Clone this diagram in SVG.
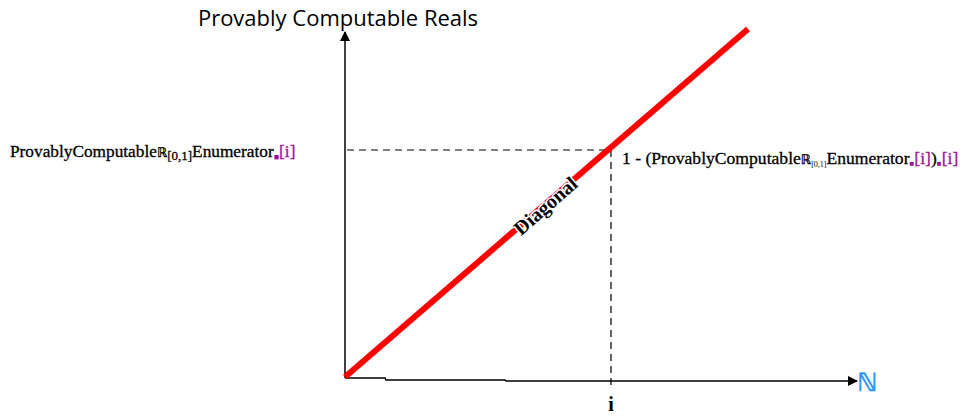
<svg xmlns="http://www.w3.org/2000/svg" width="963" height="417" viewBox="0 0 963 417">
<style>
.axis{stroke:#000;stroke-width:1.5;fill:none}
.dash{stroke:#000;stroke-width:1.2;stroke-dasharray:7,5;fill:none}
.serif{font-family:"Liberation Serif","DejaVu Serif",serif;fill:#000}
.mag{fill:#a0109c}
.halo{stroke:#fff;stroke-width:3;paint-order:stroke;stroke-linejoin:round}
</style>
<defs>
<marker id="ah" markerWidth="10" markerHeight="10" refX="9" refY="5" orient="auto" markerUnits="userSpaceOnUse">
<path d="M0,0 L10,5 L0,10 z" fill="#000"/>
</marker>
</defs>
<rect width="963" height="417" fill="#fff"/>
<g id="connectors">
<path class="axis" d="M345,378 V32" marker-end="url(#ah)"/>
<path class="axis" d="M345,378 H385 L386,380 H505 L506,381 H857" marker-end="url(#ah)"/>
<path class="dash" d="M347,150 H610"/>
<path class="dash" d="M611,150 V386"/>
<line id="diagonal" x1="345" y1="377" x2="748" y2="29" stroke="#ff0000" stroke-width="6"/>
</g>
<g id="title"><text x="338" y="26" text-anchor="middle" font-family="'Open Sans','Liberation Sans',sans-serif" font-size="22" fill="#000">Provably Computable Reals</text></g>
<g id="diagonal-label"><text transform="translate(550,211) rotate(-41)" text-anchor="middle" class="serif halo" font-size="20" font-weight="bold">Diagonal</text></g>
<g id="left-label"><text x="10" y="157" class="serif" font-size="17.3" stroke="#000" stroke-width="0.3">ProvablyComputable<tspan font-family="'DejaVu Sans',sans-serif" font-size="13">ℝ</tspan><tspan font-size="13" dy="3">[0,1]</tspan><tspan dy="-3">Enumerator</tspan><tspan class="mag" stroke="none" font-size="9" dy="3">■</tspan><tspan class="mag" stroke="#a0109c" dy="-3">[i]</tspan></text></g>
<g id="right-label"><text x="622" y="164" class="serif" font-size="17.6" stroke="#000" stroke-width="0.3">1 - (ProvablyComputable<tspan font-family="'DejaVu Sans',sans-serif" font-size="13">ℝ</tspan><tspan font-size="8" stroke="none" dy="3">[0,1]</tspan><tspan dy="-3">Enumerator</tspan><tspan class="mag" stroke="none" font-size="8" dy="2">■</tspan><tspan class="mag" stroke="#a0109c" dy="-2">[i]</tspan>)<tspan class="mag" stroke="none" font-size="8" dy="2">■</tspan><tspan class="mag" stroke="#a0109c" dy="-2">[i]</tspan></text></g>
<g id="i-label"><text x="611" y="411" text-anchor="middle" class="serif" font-size="20" font-weight="bold">i</text></g>
<g id="N-label"><text x="857" y="391" font-family="'DejaVu Sans',sans-serif" font-size="25" fill="#1e90ff" stroke="#1e90ff" stroke-width="0.6">ℕ</text></g>
</svg>
